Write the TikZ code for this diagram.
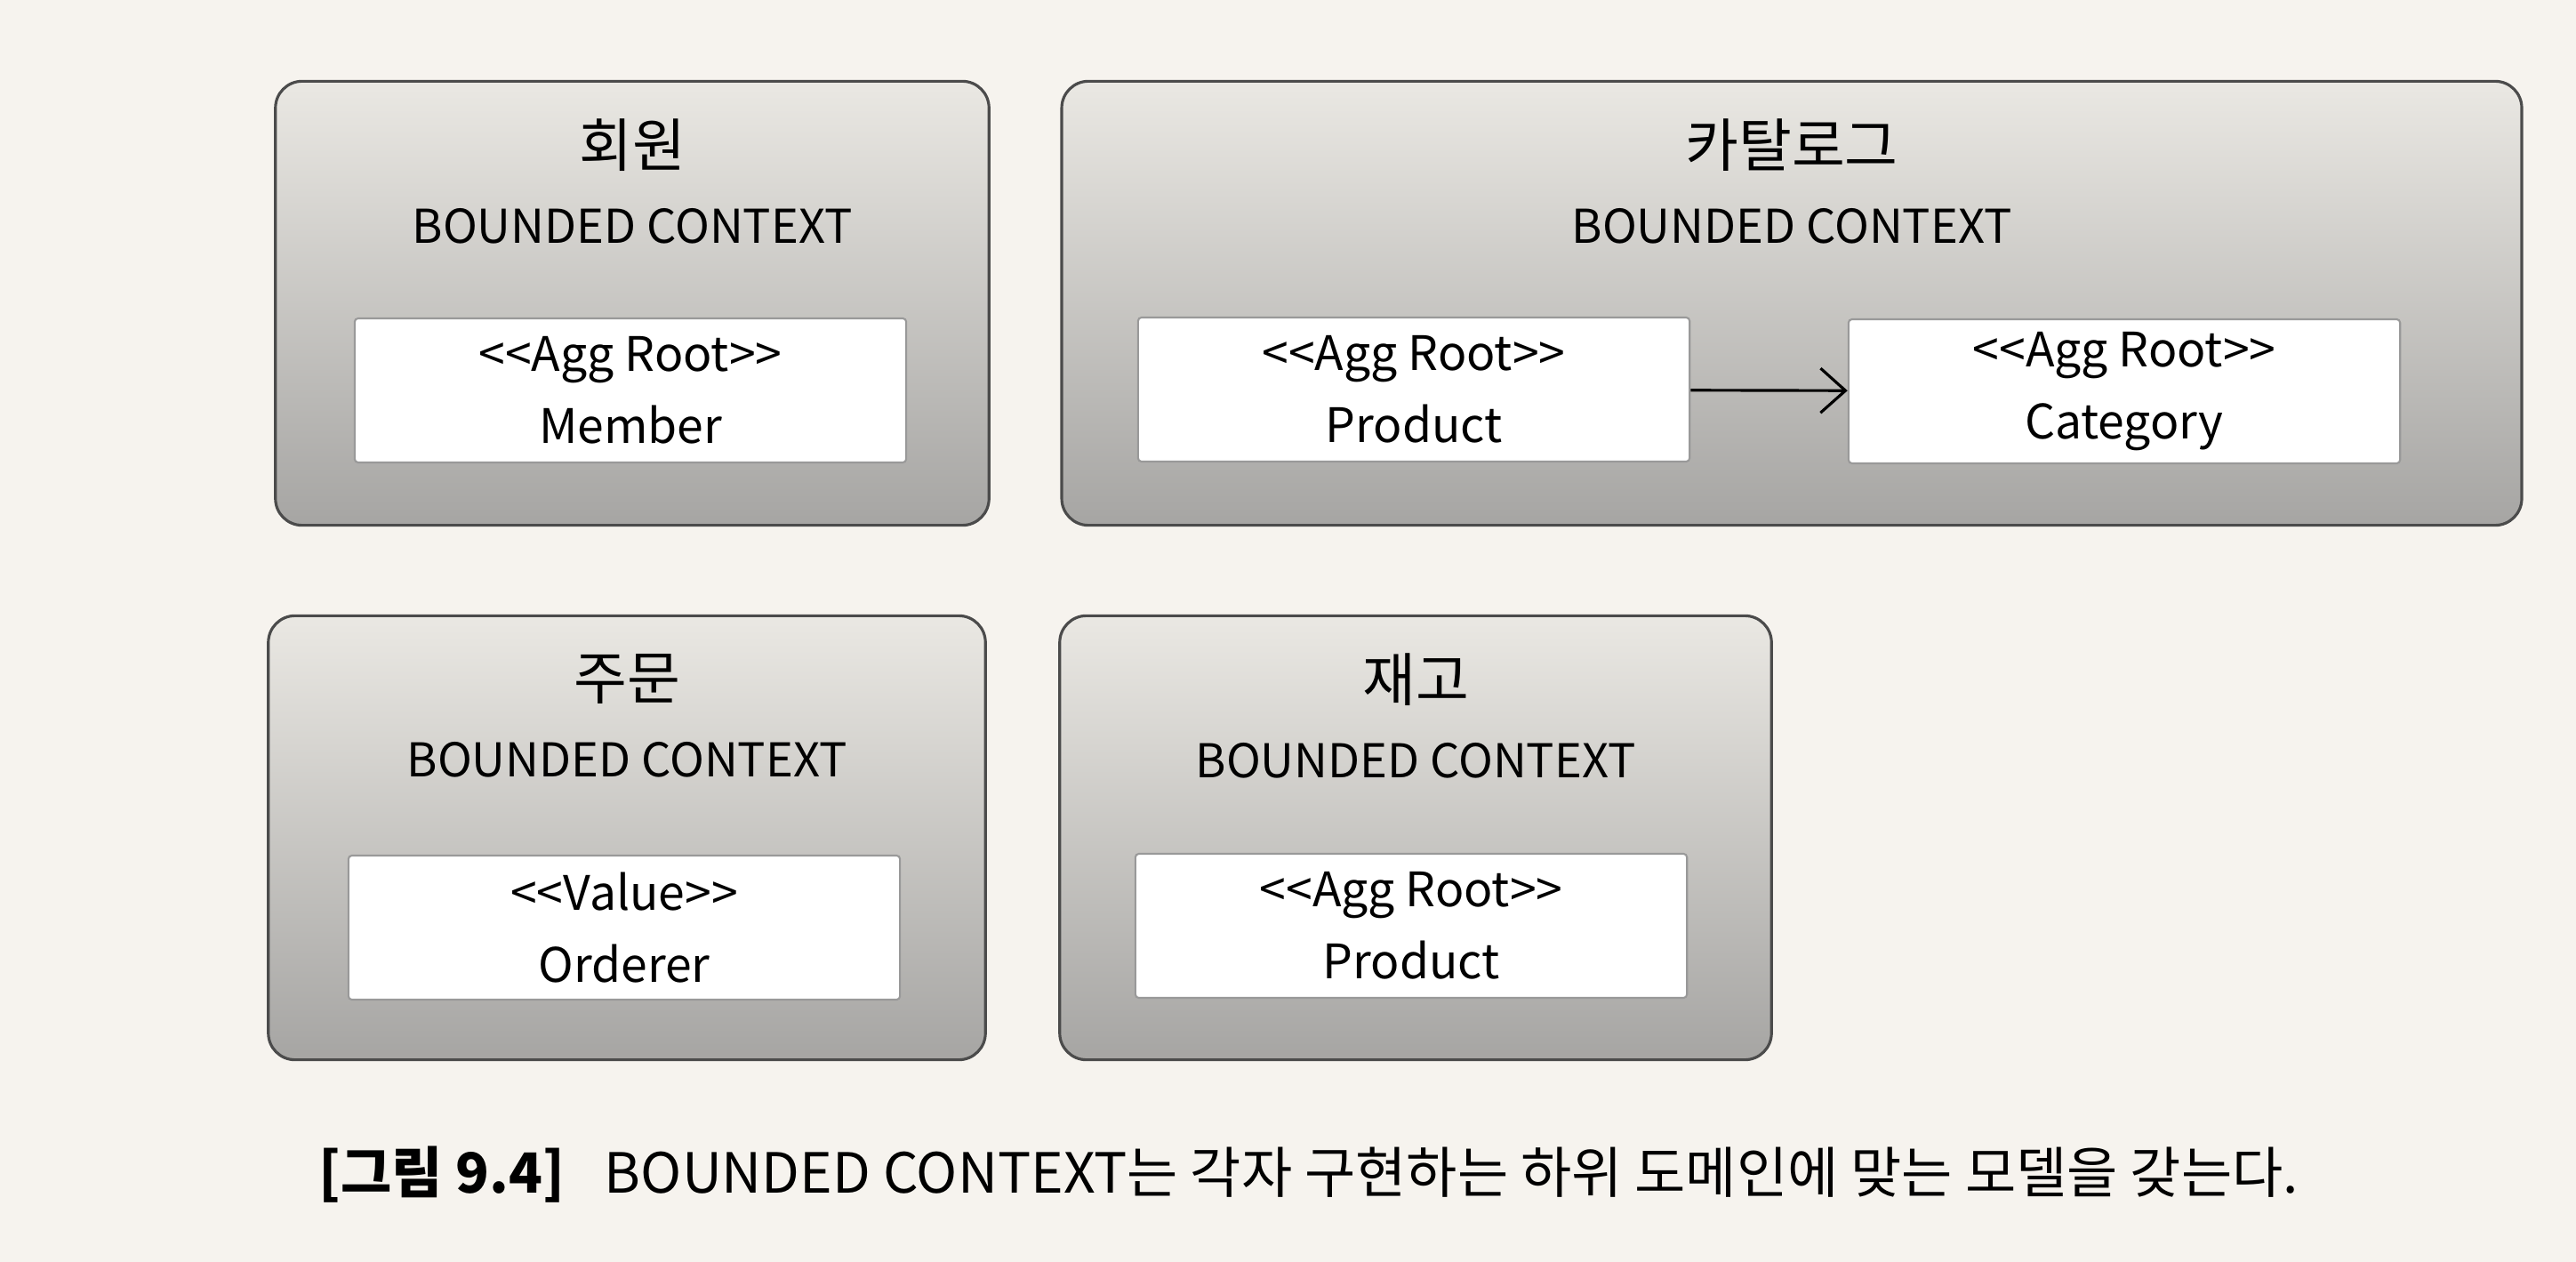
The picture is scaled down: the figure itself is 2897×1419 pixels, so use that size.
\documentclass[tikz,border=0pt]{standalone}
\usepackage{fontspec}
\setmainfont{Noto Sans CJK KR}
\usetikzlibrary{arrows.meta,positioning}
\definecolor{pagebg}{RGB}{246,243,238}
\definecolor{ctxtop}{RGB}{234,232,227}
\definecolor{ctxbottom}{RGB}{166,165,163}
\definecolor{ctxline}{RGB}{75,75,75}
\newcommand\stereo[1]{<{}<#1>{}>}
\newcommand\ctxkor[1]{{\fontsize{18.5}{24.5}\selectfont #1}}

\begin{document}
\begin{tikzpicture}[x=0.01cm, y=-0.01cm,
    context/.style={draw=ctxline, line width=0.9pt, rounded corners=0.3cm,
        top color=ctxtop, bottom color=ctxbottom, inner sep=0pt, minimum height=4.99cm},
    ctxname/.style={align=center, font=\fontsize{14.9}{24.5}\selectfont},
    model/.style={draw=gray!80, line width=0.6pt, rounded corners=0.04cm, fill=white,
        minimum width=6.2cm, minimum height=1.62cm, align=center,
        font=\fontsize{15.2}{23}\selectfont},
    relation/.style={-{Straight Barb[length=0.28cm, width=0.5cm]}, line width=0.9pt}]

    % page
    \fill[pagebg] (0,0) rectangle (2897,1419);

    % Bounded contexts
    \node[context, minimum width=8.02cm] (memberctx) at (711,341) {};
    \node[context, minimum width=16.41cm] (catalogctx) at (2015,341) {};
    \node[context, minimum width=8.06cm] (orderctx) at (705,942) {};
    \node[context, minimum width=8.00cm] (stockctx) at (1592,942) {};

    % Context names
    \node[ctxname] (membername) at ([yshift=-1.14cm]memberctx.north) {\ctxkor{회원}\\BOUNDED CONTEXT};
    \node[ctxname] (catalogname) at ([yshift=-1.14cm]catalogctx.north) {\ctxkor{카탈로그}\\BOUNDED CONTEXT};
    \node[ctxname] (ordername) at ([yshift=-1.14cm]orderctx.north) {\ctxkor{주문}\\BOUNDED CONTEXT};
    \node[ctxname] (stockname) at ([yshift=-1.14cm]stockctx.north) {\ctxkor{재고}\\BOUNDED CONTEXT};

    % Models
    \node[model] (member) at (709,439) {\stereo{Agg Root}\\Member};
    \node[model] (product) at (1590,438) {\stereo{Agg Root}\\Product};
    \node[model] (category) at (2389,440) {\stereo{Agg Root}\\Category};
    \node[model] (orderer) at (702,1043) {\stereo{Value}\\Orderer};
    \node[model] (stockproduct) at (1587,1041) {\stereo{Agg Root}\\Product};

    \draw[relation] (product) -- (category);

    % Caption
    \node[anchor=west, font=\fontsize{17.7}{20}\selectfont, inner sep=0pt] (caption) at (358,1321)
        {\textbf{[그림 9.4]}\hspace{0.45cm}BOUNDED CONTEXT는 각자 구현하는 하위 도메인에 맞는 모델을 갖는다.};
\end{tikzpicture}
\end{document}
